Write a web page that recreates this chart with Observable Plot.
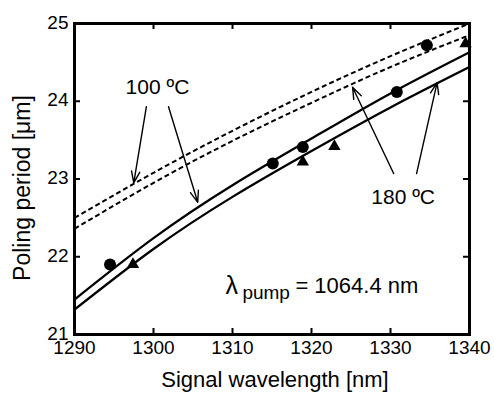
<!DOCTYPE html>
<html><head><meta charset="utf-8">
<script src="https://cdn.jsdelivr.net/npm/d3@7"></script>
<script src="https://cdn.jsdelivr.net/npm/@observablehq/plot@0.6"></script>
<style>body{margin:0;background:#fff} #chart svg{font-family:"Liberation Sans",Arial,sans-serif}</style>
</head><body><div id="chart"></div>
<script>
// ---- data ----
const wavelengths = [1290, 1300, 1310, 1320, 1330, 1340];
const dashed100 = [22.50, 23.08, 23.62, 24.12, 24.58, 25.00];
const dashed180 = [22.36, 22.95, 23.49, 23.98, 24.44, 24.85];
const solid100  = [21.45, 22.24, 22.92, 23.52, 24.10, 24.63];
const solid180  = [21.32, 22.10, 22.77, 23.36, 23.92, 24.44];
const circleX = [1294.5, 1315.1, 1318.9, 1330.8, 1334.6];
const circleY = [21.90, 23.20, 23.41, 24.12, 24.72];
const triX = [1297.4, 1318.9, 1322.9, 1339.5];
const triY = [21.90, 23.22, 23.42, 24.74];
const xTicks = [1290, 1300, 1310, 1320, 1330, 1340];
const yTicks = [21, 22, 23, 24, 25];
const innerXTicks = [1300, 1310, 1320, 1330];
const innerYTicks = [22, 23, 24];
// annotations
const tempLabels = ["100 ºC", "180 ºC"];
const tempLabelX = [1300.5, 1331.6];
const tempLabelY = [24.18, 22.76];
const arrowX1 = [1299.1, 1301.9, 1330.4, 1333.3];
const arrowY1 = [23.93, 23.93, 23.07, 23.07];
const arrowX2 = [1297.5, 1305.6, 1325.2, 1335.9];
const arrowY2 = [22.95, 22.70, 24.18, 24.24];
const pumpX = [1309.1];
const pumpY = [21.62];
const xTitle = "Signal wavelength [nm]";
const yTitle = "Poling period [μm]";

const rows = ys => wavelengths.map((x, i) => ({x, y: ys[i]}));
const circles = circleX.map((x, i) => ({x, y: circleY[i]}));
const tris = triX.map((x, i) => ({x, y: triY[i]}));
const labels = tempLabels.map((t, i) => ({t, x: tempLabelX[i], y: tempLabelY[i]}));
const arrows = arrowX1.map((x1, i) => ({x1, y1: arrowY1[i], x2: arrowX2[i], y2: arrowY2[i]}));
const pump = pumpX.map((x, i) => ({x, y: pumpY[i]}));

const lineOpts = {x: "x", y: "y", curve: "natural", stroke: "black", strokeWidth: 2.3, clip: true};
const dashOpts = {...lineOpts, strokeWidth: 2, strokeDasharray: "5,3", strokeLinecap: "butt"};

const chart = Plot.plot({
  width: 494, height: 397,
  marginLeft: 74, marginRight: 25, marginTop: 23, marginBottom: 63,
  style: {fontFamily: "Liberation Sans, Arial, sans-serif", fontSize: "19px", color: "black", background: "white"},
  x: {domain: [1290, 1340]},
  y: {domain: [21, 25]},
  marks: [
    Plot.line(rows(dashed100), dashOpts),
    Plot.line(rows(dashed180), dashOpts),
    Plot.line(rows(solid100), lineOpts),
    Plot.line(rows(solid180), lineOpts),
    Plot.dot(circles, {x: "x", y: "y", r: 6, fill: "black", stroke: "none"}),
    Plot.dot(tris, {x: "x", y: "y", symbol: "triangle", r: 4.6, fill: "black", stroke: "none"}),
    Plot.arrow(arrows, {x1: "x1", y1: "y1", x2: "x2", y2: "y2", stroke: "black", strokeWidth: 1.4, headLength: 13, headAngle: 40}),
    Plot.text(labels, {x: "x", y: "y", text: "t", fontSize: 21, fill: "black"}),
    Plot.text(pump, {x: "x", y: "y", text: () => "λ", textAnchor: "start", fontSize: 25, fill: "black"}),
    Plot.text(pump, {x: "x", y: "y", text: () => "pump", textAnchor: "start", fontSize: 19, dx: 17, dy: 7, fill: "black"}),
    Plot.text(pump, {x: "x", y: "y", text: () => "= 1064.4 nm", textAnchor: "start", fontSize: 22, dx: 70, fill: "black"}),
    Plot.tickX(innerXTicks, {x: d => d, insetTop: 305, stroke: "black", strokeWidth: 2}),
    Plot.tickX(innerXTicks, {x: d => d, insetBottom: 305, stroke: "black", strokeWidth: 2}),
    Plot.tickY(innerYTicks, {y: d => d, insetLeft: 389, stroke: "black", strokeWidth: 2}),
    Plot.tickY(innerYTicks, {y: d => d, insetRight: 389, stroke: "black", strokeWidth: 2}),
    Plot.axisX({ticks: xTicks, tickSize: 0, tickPadding: 6, tickFormat: d => String(d), label: null, fontSize: 19}),
    Plot.axisY({ticks: yTicks, tickSize: 0, tickPadding: 6, tickFormat: d => String(d), label: null, fontSize: 19, dy: -1}),
    Plot.text([xTitle], {frameAnchor: "bottom", text: d => d, textAnchor: "middle", dx: 3, dy: 52, fontSize: 22, fill: "black"}),
    Plot.text([yTitle], {frameAnchor: "left", text: d => d, textAnchor: "middle", rotate: -90, dx: -52, dy: 9, fontSize: 23, fill: "black"}),
    Plot.frame({stroke: "black", strokeWidth: 3})
  ]
});
document.getElementById("chart").appendChild(chart);
</script>
</body></html>
